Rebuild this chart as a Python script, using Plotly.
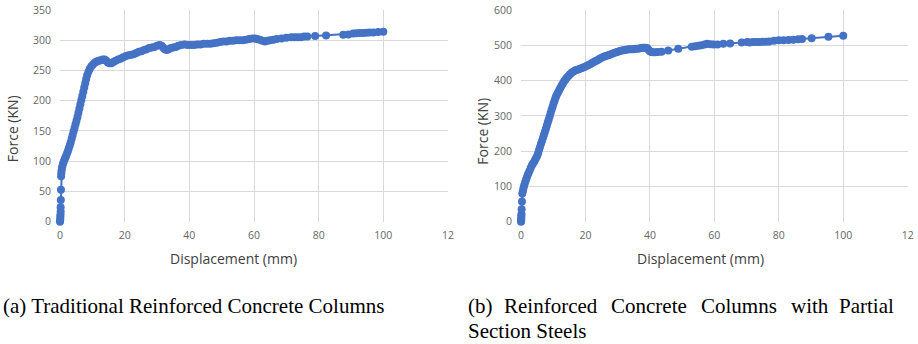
import plotly.graph_objects as go

# ---------------- data ----------------
disp_a = [0, 0.05, 0.1, 0.1, 0.15, 0.2, 0.2, 0.25, 0.3, 0.35, 0.4, 0.5, 0.6, 0.8, 1.0, 1.2, 1.5, 1.8,
          2.1, 2.4, 2.7, 3.0, 3.3, 3.6, 3.9, 4.2, 4.5, 4.8, 5.1, 5.4, 5.7, 6.0, 6.3, 6.6, 6.9, 7.2,
          7.5, 7.8, 8.1, 8.4, 8.8, 9.2, 9.7, 10.2, 10.8, 11.4, 12.0, 12.6, 13.2, 13.8, 14.3, 14.8,
          15.3, 15.9, 16.5, 17.2, 18.0, 18.8, 19.6, 20.4, 21.2, 22.0, 22.8, 23.6, 24.4, 25.2, 26.0,
          26.8, 27.6, 28.4, 29.2, 30.0, 30.8, 31.4, 31.9, 32.4, 33.0, 33.6, 34.3, 35.0, 35.8, 36.6,
          37.5, 38.5, 39.5, 40.5, 41.5, 42.5, 43.5, 44.5, 45.5, 46.5, 47.5, 48.5, 49.5, 50.5, 51.5,
          52.5, 53.5, 54.5, 55.5, 56.5, 57.5, 58.5, 59.5, 60.3, 61.0, 61.8, 62.6, 63.4, 64.2, 65.0,
          66.0, 67.0, 68.5, 70.0, 71.5, 72.5, 73.5, 74.5, 75.5, 76.5, 78.9, 82.3, 87.6, 89.2, 90.7,
          91.7, 92.7, 93.7, 94.7, 95.7, 96.9, 98.4, 100.0]
force_a = [0, 2, 5, 8, 12, 17, 24, 36, 53, 75, 80, 85, 89, 93, 97, 100, 104, 108,
           112, 116, 121, 126, 131, 137, 143, 149, 155, 161, 167, 173, 180, 187, 194, 201, 208, 215,
           222, 229, 236, 242, 248, 253, 257, 260, 263, 265, 266, 267, 268, 268, 266, 263,
           262, 262, 264, 266, 268, 270, 272, 274, 275, 276, 277, 279, 281, 282, 284,
           285, 287, 288, 289, 291, 292, 291, 288, 285, 284, 285, 287, 288, 289, 291,
           292, 293, 292, 292, 292, 293, 293, 294, 294, 294, 295, 296, 297, 298, 298,
           299, 299, 300, 300, 300, 301, 302, 303, 303, 302, 301, 299, 298, 299, 300,
           301, 302, 303, 304, 305, 305, 305, 305, 306, 306, 307, 308, 309, 309.5, 311,
           311.5, 312, 312, 312.5, 313, 313, 313.5, 314]

disp_b = [0, 0.05, 0.05, 0.1, 0.1, 0.15, 0.2, 0.3, 0.4, 0.6, 0.8, 1.0, 1.3, 1.6, 1.9, 2.2, 2.6,
          3.0, 3.4, 3.8, 4.2, 4.6, 5.0, 5.3, 5.6, 5.9, 6.2, 6.5, 6.8, 7.1, 7.4, 7.7, 8.0, 8.3, 8.6,
          8.9, 9.2, 9.5, 9.8, 10.1, 10.4, 10.7, 11.0, 11.4, 11.8, 12.2, 12.6, 13.0, 13.4, 13.8,
          14.2, 14.7, 15.2, 15.7, 16.3, 16.9, 17.5, 18.1, 18.7, 19.3, 19.9, 20.5, 21.1, 21.7,
          22.3, 22.9, 23.5, 24.1, 24.7, 25.3, 25.9, 26.5, 27.1, 27.7, 28.3, 28.9, 29.5, 30.1,
          30.7, 31.3, 31.9, 32.5, 33.1, 33.7, 34.3, 34.9, 35.5, 36.1, 36.7, 37.3, 37.9, 38.5,
          39.1, 39.5, 39.9, 40.4, 41.0, 41.7, 42.5, 43.6, 45.7, 48.8, 53.0, 54.0, 55.0, 56.0,
          57.0, 57.8, 58.8, 59.8, 61.0, 62.8, 64.9, 68.5, 70.2, 71.0, 72.0, 73.0, 74.0, 75.0,
          76.0, 77.0, 78.5, 80.0, 81.5, 83.0, 84.5, 86.0, 87.2, 90.2, 95.4, 100.0]
force_b = [0, 3, 7, 12, 17, 22, 35, 57, 80, 88, 96, 103, 112, 120, 128, 135, 143,
           152, 160, 166, 172, 179, 186, 194, 203, 212, 221, 229, 237, 246, 254, 263, 272, 281, 290,
           299, 308, 317, 326, 335, 343, 351, 358, 365, 372, 379, 386, 392, 398, 403,
           408, 413, 418, 422, 426, 429, 431, 433, 435, 437, 439, 442, 445, 448,
           451, 454, 457, 460, 463, 466, 468, 470, 472, 474, 476, 478, 480, 482,
           484, 485, 486, 487, 488, 489, 489, 489, 490, 490, 491, 492, 493, 493,
           492, 488, 484, 481, 480, 480, 481, 482, 485, 490, 496, 497, 499, 500,
           502, 504, 503, 502, 502, 504, 505, 508, 509, 508, 509, 509, 509, 510,
           510, 511, 513, 514, 514, 515, 516, 517, 518, 520, 524, 527]

x_ticks = [0, 20, 40, 60, 80, 100, 120]
x_ticktext = ["0", "20", "40", "60", "80", "100", "12"]
y_ticks_a = [0, 50, 100, 150, 200, 250, 300, 350]
y_ticks_b = [0, 100, 200, 300, 400, 500, 600]

x_title = "Displacement (mm)"
y_title = "Force (KN)"
caption_a = "(a) Traditional Reinforced Concrete Columns"
caption_b_line1 = ["(b)", "Reinforced", "Concrete", "Columns", "with", "Partial"]
caption_b_line2 = "Section Steels"

# ---------------- layout helpers ----------------
W, H = 918, 344
def px(x):
    return x / W
def py(y):
    return (H - y) / H

BLUE = "#4472C4"
GRID = "#d9d9d9"
TICK_FONT = dict(family="Open Sans", size=10.5, color="#666666")
TITLE_FONT = dict(family="Open Sans", size=14, color="#404040")
CAP_FONT = dict(family="Liberation Serif", size=21, color="#000000")

fig = go.Figure()
fig.add_trace(go.Scatter(x=disp_a, y=force_a, mode="lines+markers", xaxis="x", yaxis="y",
                         line=dict(color=BLUE, width=2), marker=dict(color=BLUE, size=8),
                         cliponaxis=False, showlegend=False))
fig.add_trace(go.Scatter(x=disp_b, y=force_b, mode="lines+markers", xaxis="x2", yaxis="y2",
                         line=dict(color=BLUE, width=2), marker=dict(color=BLUE, size=8),
                         cliponaxis=False, showlegend=False))

plot_top, plot_bot = 10, 221.7
axis_common = dict(showgrid=True, gridcolor=GRID, gridwidth=1, zeroline=False, automargin=False,
                   showline=False, ticks="", tickfont=TICK_FONT, fixedrange=True)

fig.update_layout(
    width=W, height=H,
    margin=dict(l=0, r=0, t=0, b=0, autoexpand=False),
    paper_bgcolor="white", plot_bgcolor="white",
    hovermode=False,
    xaxis=dict(domain=[px(60), px(448)], range=[0, 120], tickvals=x_ticks, ticktext=x_ticktext,
               anchor="y", ticklabelstandoff=6, **axis_common),
    yaxis=dict(domain=[py(plot_bot), py(plot_top)], range=[0, 350], tickvals=y_ticks_a,
               anchor="x", ticklabelstandoff=8, **axis_common),
    xaxis2=dict(domain=[px(521), px(907.7)], range=[0, 120], tickvals=x_ticks, ticktext=x_ticktext,
                anchor="y2", ticklabelstandoff=6, **axis_common),
    yaxis2=dict(domain=[py(plot_bot), py(plot_top)], range=[0, 600], tickvals=y_ticks_b,
                anchor="x2", ticklabelstandoff=8, **axis_common),
)

ann = []
# axis titles
ann.append(dict(text=x_title, x=px(233), y=py(258), xref="paper", yref="paper",
                xanchor="center", yanchor="middle", showarrow=False, font=TITLE_FONT))
ann.append(dict(text=x_title, x=px(700), y=py(258), xref="paper", yref="paper",
                xanchor="center", yanchor="middle", showarrow=False, font=TITLE_FONT))
ann.append(dict(text=y_title, x=px(12.7), y=py(128.5), xref="paper", yref="paper", textangle=-90,
                xanchor="center", yanchor="middle", showarrow=False, font=TITLE_FONT))
ann.append(dict(text=y_title, x=px(481.7), y=py(131), xref="paper", yref="paper", textangle=-90,
                xanchor="center", yanchor="middle", showarrow=False, font=TITLE_FONT))
# captions
ann.append(dict(text=caption_a, x=px(1), y=py(306), xref="paper", yref="paper",
                xanchor="left", yanchor="middle", showarrow=False, font=CAP_FONT))
word_x = [467, 503, 610, 700, 790, 838]
for w, wx in zip(caption_b_line1, word_x):
    ann.append(dict(text=w, x=px(wx - 1), y=py(306), xref="paper", yref="paper",
                    xanchor="left", yanchor="middle", showarrow=False, font=CAP_FONT))
ann.append(dict(text=caption_b_line2, x=px(466), y=py(331), xref="paper", yref="paper",
                xanchor="left", yanchor="middle", showarrow=False, font=CAP_FONT))
fig.update_layout(annotations=ann)

# remove the browser's default 8px body margin so the figure sits at the page origin
fig.write_html("out.html", config={"displayModeBar": False},
               post_script="document.body.style.margin='0';")
